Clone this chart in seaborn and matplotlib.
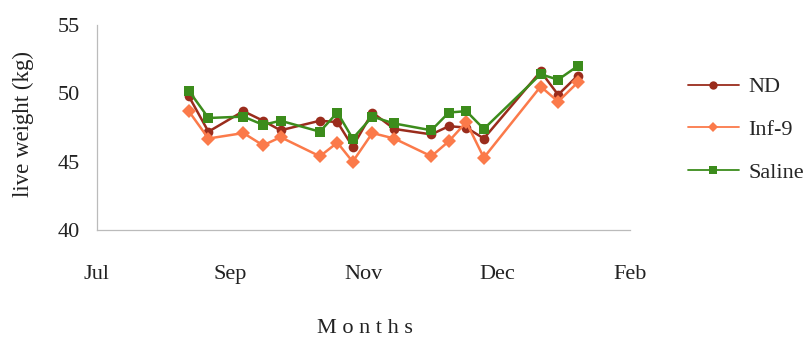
import numpy as np
import pandas as pd
import matplotlib
matplotlib.use('Agg')
import matplotlib.pyplot as plt
from matplotlib.lines import Line2D
import seaborn as sns

# days since 1 Jul (x position of each weighing)
days = [42, 51, 67, 76, 84, 102, 110, 117, 126, 136, 153, 161, 169, 177, 203, 211, 220]

nd = [49.8, 47.2, 48.7, 48.0, 47.3, 48.0, 47.9, 46.1, 48.6, 47.4, 47.0, 47.6, 47.5, 46.7, 51.6, 49.9, 51.3]
inf9 = [48.7, 46.7, 47.1, 46.2, 46.8, 45.4, 46.4, 45.0, 47.1, 46.7, 45.4, 46.5, 47.9, 45.3, 50.5, 49.4, 50.8]
saline = [50.2, 48.2, 48.3, 47.7, 48.0, 47.2, 48.6, 46.7, 48.3, 47.8, 47.3, 48.6, 48.7, 47.4, 51.4, 51.0, 52.0]

tick_days = [0, 61, 122, 183, 244]
tick_labels = ['Jul', 'Sep', 'Nov', 'Dec', 'Feb']
groups = ['ND', 'Inf-9', 'Saline']

df = pd.DataFrame({
    'day': days * 3,
    'weight': nd + inf9 + saline,
    'group': ['ND'] * len(days) + ['Inf-9'] * len(days) + ['Saline'] * len(days),
})

sns.set_style('white')
plt.rcParams['font.family'] = ['Liberation Serif', 'DejaVu Serif']

fig = plt.figure(figsize=(8.08, 3.42), dpi=100)
ax = fig.add_axes([0.12, 0.327, 0.66, 0.60])

palette = {'ND': '#9a2c1c', 'Inf-9': '#fb7a4a', 'Saline': '#3c8c1c'}
markers = {'ND': 'o', 'Inf-9': 'D', 'Saline': 's'}

sns.lineplot(data=df, x='day', y='weight', hue='group', style='group',
             palette=palette, markers=markers, dashes=False,
             markersize=7, markeredgewidth=0, linewidth=1.8, ax=ax, legend=False)

ax.set_xlim(0, 244)
ax.set_ylim(40, 55)
ax.set_yticks([40, 45, 50, 55])
ax.set_xticks(tick_days)
ax.set_xticklabels(tick_labels)
ax.tick_params(axis='both', labelsize=16, colors='#bbbbbb', length=4, width=0.8,
               labelcolor='#222222')
ax.tick_params(axis='x', pad=21)
ax.tick_params(axis='y', pad=8)

for s in ['top', 'right']:
    ax.spines[s].set_visible(False)
for s in ['left', 'bottom']:
    ax.spines[s].set_color('#bbbbbb')
    ax.spines[s].set_linewidth(0.9)

ax.set_xlabel('M o n t h s', fontsize=16, color='#222222')
ax.xaxis.set_label_coords(0.503, -0.478)
ax.xaxis.label.set_va('center')
ax.set_ylabel('live weight (kg)', fontsize=16.5, color='#222222')
ax.yaxis.set_label_coords(-0.137, 0.517)
ax.yaxis.label.set_va('center')

# legend with small markers and thin lines
handles = [Line2D([], [], color=palette[g], marker=markers[g], markersize=6 if g != 'Inf-9' else 5.5,
                  markeredgewidth=0, linewidth=1.3) for g in groups]
fig.legend(handles, groups, loc='center left', bbox_to_anchor=(0.851, 0.62),
           frameon=False, fontsize=16, handlelength=2.3, labelspacing=1.0,
           handletextpad=0.45, borderpad=0, borderaxespad=0)

fig.savefig('out.png', dpi=100)
